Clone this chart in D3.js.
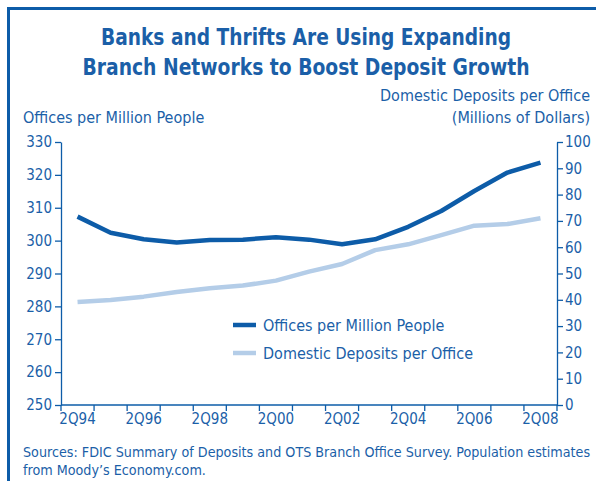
<!DOCTYPE html>
<html>
<head>
<meta charset="utf-8">
<script src="https://cdn.jsdelivr.net/npm/d3@7"></script>
<style>
  body { margin: 0; background: #fff; }
  text { font-family: "Liberation Sans Narrow", "DejaVu Sans Condensed", sans-serif; fill: #1b5fa8; }
</style>
</head>
<body>
<script>
// quarters (2Q of each year)
const years = d3.range(1994, 2009);
const tickLabels = ["2Q94", "2Q96", "2Q98", "2Q00", "2Q02", "2Q04", "2Q06", "2Q08"];
// offices per million people (left axis)
const offices = [307.3, 302.4, 300.4, 299.4, 300.2, 300.3, 301.0, 300.3, 298.9, 300.4, 304.2, 309.0, 315.1, 320.7, 323.7];
// domestic deposits per office, $ millions (right axis)
const deposits = [39.2, 39.9, 41.2, 43.0, 44.4, 45.4, 47.3, 50.7, 53.6, 58.9, 61.1, 64.6, 68.2, 68.8, 71.0];

const W = 596, H = 481;
const blue = "#0d5ca8", light = "#b4cde8", txt = "#1b5fa8";
const m = {left: 61, right: 557, top: 142, bottom: 405};

const svg = d3.select("body").append("svg").attr("width", W).attr("height", H);

// frame
svg.append("path").attr("d", `M8.5,${H} V8.5 H${W}`).attr("fill", "none")
    .attr("stroke", blue).attr("stroke-width", 3);

const title = [["Banks and Thrifts Are Using Expanding", 410], ["Branch Networks to Boost Deposit Growth", 447]];
svg.selectAll(".title").data(title).join("text")
    .attr("x", 306).attr("y", (d, i) => 45 + i * 30)
    .attr("text-anchor", "middle").style("font-size", "23px").style("font-weight", "bold")
    .attr("textLength", d => d[1]).attr("lengthAdjust", "spacingAndGlyphs")
    .text(d => d[0]);

const x = d3.scaleBand().domain(years).range([m.left, m.right]);
const yL = d3.scaleLinear().domain([250, 330]).range([m.bottom, m.top]);
const yR = d3.scaleLinear().domain([0, 100]).range([m.bottom, m.top]);

function styleAxis(g) {
    g.selectAll("path, line").attr("stroke", blue).attr("stroke-width", 1.3);
    g.selectAll("text").style("font-size", "15px").attr("fill", txt);
}

svg.append("g").attr("transform", `translate(${m.left},0)`)
    .call(d3.axisLeft(yL).tickValues(d3.range(250, 331, 10)).tickSize(6).tickSizeOuter(0).tickPadding(3))
    .call(styleAxis);
svg.append("g").attr("transform", `translate(${m.right},0)`)
    .call(d3.axisRight(yR).tickValues(d3.range(0, 101, 10)).tickSize(6).tickSizeOuter(0).tickPadding(2))
    .call(styleAxis);

// x axis: ticks at band edges, labels every other year
const gx = svg.append("g").attr("transform", `translate(0,${m.bottom})`);
gx.append("line").attr("x1", m.left).attr("x2", m.right).attr("stroke", blue).attr("stroke-width", 1.3);
gx.selectAll(".tk").data(d3.range(years.length + 1)).join("line")
    .attr("x1", i => m.left + i * x.step()).attr("x2", i => m.left + i * x.step())
    .attr("y1", 0).attr("y2", 6).attr("stroke", blue).attr("stroke-width", 1.3);
gx.selectAll(".lb").data(tickLabels).join("text")
    .attr("x", (d, i) => x(years[i * 2]) + x.bandwidth() / 2)
    .attr("y", 19).attr("text-anchor", "middle").style("font-size", "15px")
    .text(d => d);

// axis titles
svg.append("text").attr("x", 23).attr("y", 123).style("font-size", "16px").text("Offices per Million People");
svg.append("text").attr("x", 590).attr("y", 101).attr("text-anchor", "end").style("font-size", "16px").text("Domestic Deposits per Office");
svg.append("text").attr("x", 590).attr("y", 123).attr("text-anchor", "end").style("font-size", "16px").text("(Millions of Dollars)");

const cx = (d, i) => x(years[i]) + x.bandwidth() / 2;
svg.append("path").datum(deposits)
    .attr("d", d3.line().x(cx).y(d => yR(d)))
    .attr("fill", "none").attr("stroke", light).attr("stroke-width", 4.5).attr("stroke-linejoin", "round");
svg.append("path").datum(offices)
    .attr("d", d3.line().x(cx).y(d => yL(d)))
    .attr("fill", "none").attr("stroke", blue).attr("stroke-width", 4.5).attr("stroke-linejoin", "round");

// legend
const legend = [["Offices per Million People", blue], ["Domestic Deposits per Office", light]];
const lg = svg.selectAll(".lg").data(legend).join("g")
    .attr("transform", (d, i) => `translate(233,${325 + i * 28})`);
lg.append("line").attr("x1", 0).attr("x2", 23).attr("stroke", d => d[1]).attr("stroke-width", 4.5);
lg.append("text").attr("x", 30).attr("y", 6).style("font-size", "16px").text(d => d[0]);

// source note
svg.append("text").attr("x", 23).attr("y", 457).style("font-size", "14.2px")
    .text("Sources: FDIC Summary of Deposits and OTS Branch Office Survey. Population estimates");
svg.append("text").attr("x", 23).attr("y", 475).style("font-size", "14.2px")
    .text("from Moody\u2019s Economy.com.");
</script>
</body>
</html>
